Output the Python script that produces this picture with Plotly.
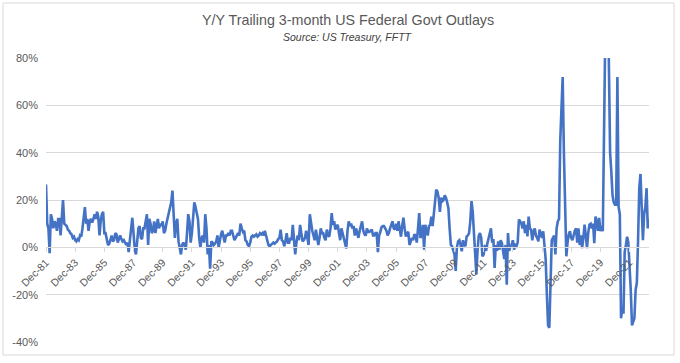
import pandas as pd
import plotly.graph_objects as go

# Y/Y change of trailing 3-month federal outlays, monthly, Dec-1981 onward (%)
yoy = [
    26.5, 10, 8, -2.5, 14, 12, 8, 11, 10, 7, 12, 12,
    5, 13, 20, 10, 9.5, 9, 7.5, 7, 6, 5.5, 4, 4.5,
    3, 2.5, 3.5, 3, 5, 4.5, 8, 12, 17, 10, 12, 7,
    11, 12, 10.5, 12, 14, 12, 15, 13, 5, 11, 14, 15,
    6, 6, 4, 1, 1.5, 4, 5, 2.5, 3, 6, 5.5, 2,
    4, 5, 3.5, 2.5, 3, 2, 1, 2, -2, 3, 8, 12.5,
    6, -1, -3, 2, 8, 9, 4, 3.5, 8, 8, 12, 14,
    1, 12, 10, 6, 7, 11, 6, 10, 12, 8, 10, 9,
    11, 6, 7, 10, 12, 14, 17, 19, 24, 12, 4, 10,
    12, 2.5, -1, -3, 1, 2, 1, -1, 6, 14, 11, 2,
    6, 12, 19, 17, 14, 12, 4, 0, 4, 5, 2, 14,
    8, -3, 1, -9, 2.5, 2, 1, 1.5, 2.5, 5, 0, 4,
    5.5, 7, 4, 2, 5, 5, 6, 5, 7, 7, 5, 3,
    4, 5, 6, 5, 10, 8, 6.5, 7, 3, 2.5, 1, 0.5,
    2, 4.5, 5, 4.5, 5, 5.5, 4.5, 5, 6, 5.5, 6, 5,
    7, 4.5, 2.5, 1, 0.5, 1, 1.5, 2, 1.5, 2, 2.5, 3.5,
    4, 7.5, 3, 2.5, 0.5, 3, 6, 2, 2, 4, 3, 9.5,
    4, -3, 2, 5, 3, 9.5, 6, 2.5, 3, 4, 7, 4,
    1, 14, 9, 7, 5, 3, 7.5, 4, 1, 4, 8, 6,
    6, 4, 3, 7.5, 5, 4.5, 8, 14.5, 9.5, 11, 7.5, 9,
    9.5, 6, 3, 8, 6, 3, 1, -0.5, 7, 11, 9, 10,
    8, 9, 5, 8, 6, 4, 7, 9, 11, 7, 5.5, 5,
    8, 6.5, 6.5, 7, 7.5, 5, 5, 6, 6, -2, 5, 6.5,
    8.5, 9, 9, 8, 7, 5, 6, 8, 9.5, 11, 8, 7.5,
    10, 7, 11, 8, 4.5, 9, 12.5, 8, 4.5, 6, 6.5, 1,
    3, 4, 3, 5.5, 5, 2, 8, 14.5, 4, 5, 9.5, -1,
    9.5, 7.5, 5, 9, 9.5, 13, 9, 14, 20, 24.4, 23.5, 21,
    15, 21, 19.5, 20, 22, 21, 19, 16.5, 8, 1, 0.5, -1,
    -3, -10, 0, 2.5, 3, 1, -1.7, 3, 1, 0.5, 4.6, 5,
    6, 11, 19.5, 15, 4, -2, -11.5, -1, 5, 6, 4, -3.8,
    -3, 1, -1.5, 1.5, 4, 6.8, 8, 2, 3.5, -8.7, 1, -1.5,
    2.5, -1, 3, 1.8, -3, -5, 1, -15.8, 6, -1.5, 0.5, 1,
    3, -1, 1, 0.5, 2, 11.7, 11, 10, 8, 11, 6, 9.5,
    4.6, 13, 8, 7.5, 3, 6.8, 8, 5, 4, 2.5, 7.5, 6,
    4, 6.8, 0.4, -5, -20, -33, -34, -8, 3, 4, 5, -3,
    8, 11, 12, 45, 62, 72, 40, 9, -3.8, 2, 5.5, 6.8,
    4, 3, 5.4, 7, 8, 2, 8, 1, 5, -0.3, 4, 9.6,
    5, -0.3, 6, 9.6, 10, 8, 10, 1.8, 13, 11, 7, 12.4,
    6.8, 9, 6.8, 52, 95, 130, 115, 82, 40, 32, 22, 19,
    18, 18, 72, 17, 14, -30, -25, -28, -2, 1, 4.5, 2,
    -6, -18, -33, -31, -30, -18, -15, 3, 25, 31, 18, 3,
    14, 17, 25, 8, 12,
]

start_month = "1981-12-01"
tick_labels = ["Dec-81", "Dec-83", "Dec-85", "Dec-87", "Dec-89", "Dec-91", "Dec-93",
               "Dec-95", "Dec-97", "Dec-99", "Dec-01", "Dec-03", "Dec-05", "Dec-07",
               "Dec-09", "Dec-11", "Dec-13", "Dec-15", "Dec-17", "Dec-19", "Dec-21"]
y_ticks = [-40, -20, 0, 20, 40, 60, 80]
y_tick_labels = ["-40%", "-20%", "0%", "20%", "40%", "60%", "80%"]

months = list(pd.date_range(start_month, periods=len(yoy), freq="MS").strftime("%b-%y"))

W, H = 680, 363
L, R, T, B = 46, 31, 58, 21
pw, ph = W - L - R, H - T - B

def px_x(X):
    return (X - L) / pw

def px_y(Y):
    return (H - B - Y) / ph

GRID = "#D9D9D9"
TXT = "#595959"
FONT = "Liberation Sans, Arial, sans-serif"

fig = go.Figure()
fig.add_trace(go.Scatter(
    x=months, y=yoy, mode="lines",
    line=dict(color="#4472C4", width=2.6),
    hoverinfo="skip", showlegend=False,
))

fig.update_layout(
    width=W, height=H,
    margin=dict(l=L, r=R, t=T, b=B, autoexpand=False),
    paper_bgcolor="white", plot_bgcolor="white",
    font=dict(family=FONT, color=TXT),
    xaxis=dict(
        type="category", range=[0, len(yoy) - 1],
        tickmode="array", tickvals=tick_labels, ticktext=tick_labels,
        tickangle=-45, tickfont=dict(size=10.5, color=TXT),
        showgrid=False, zeroline=False,
        showline=True, linecolor=GRID, linewidth=1,
        ticks="outside", ticklen=4, tickcolor=GRID,
        anchor="free", position=(0 - y_ticks[0]) / (y_ticks[-1] - y_ticks[0]),
        automargin=False,
    ),
    yaxis=dict(
        range=[y_ticks[0], y_ticks[-1]],
        tickmode="array", tickvals=y_ticks, ticktext=y_tick_labels,
        tickfont=dict(size=11, color=TXT),
        showgrid=True, gridcolor=GRID, gridwidth=1,
        zeroline=False, showline=False, ticks="",
        ticklabelstandoff=7, automargin=False,
    ),
    shapes=[dict(
        type="rect", xref="paper", yref="paper",
        x0=px_x(3), x1=px_x(674), y0=px_y(355), y1=px_y(3),
        line=dict(color=GRID, width=1), fillcolor="rgba(0,0,0,0)", layer="below",
    )],
    annotations=[
        dict(text="Y/Y Trailing 3-month US Federal Govt Outlays",
             xref="paper", yref="paper", x=0.5, y=px_y(20),
             xanchor="center", yanchor="middle", showarrow=False,
             font=dict(size=14.3, color=TXT, family=FONT)),
        dict(text="<i>Source: US Treasury, FFTT</i>",
             xref="paper", yref="paper", x=0.5, y=px_y(37),
             xanchor="center", yanchor="middle", showarrow=False,
             font=dict(size=10.5, color="#404040", family=FONT)),
    ],
)

fig.write_html(
    "out.html",
    config={"displayModeBar": False, "staticPlot": True},
    post_script="document.body.style.margin='0';document.body.style.padding='0';"
                "document.body.style.overflow='hidden';",
)
